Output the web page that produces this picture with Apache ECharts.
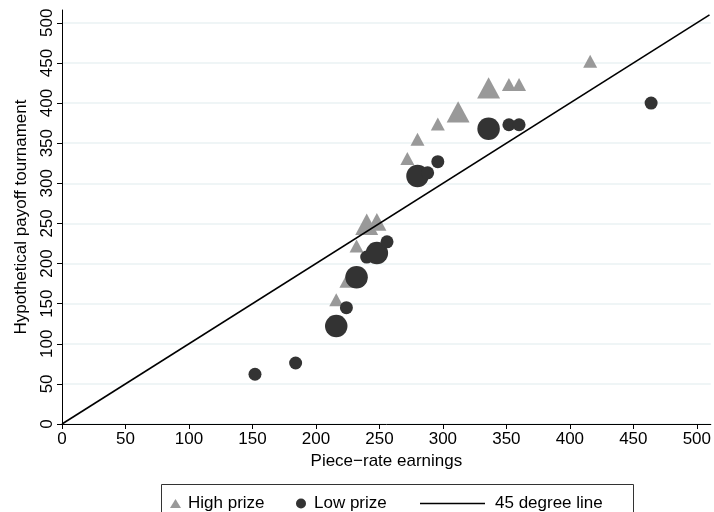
<!DOCTYPE html>
<html>
<head>
<meta charset="utf-8">
<script src="https://cdn.jsdelivr.net/npm/echarts@6/dist/echarts.min.js"></script>
<style>
  html, body { margin: 0; padding: 0; background: #ffffff; }
  #chart { width: 714px; height: 512px; }
</style>
</head>
<body>
<div id="chart"></div>
<script>
// Hypothetical tournament payoff against piece-rate earnings
const highX = [216, 224, 232, 240, 248, 272, 280, 296, 312, 336, 352, 360, 416];
const highY = [155, 178, 222, 249, 252, 331, 355, 374, 389, 419, 423, 423, 452];
const highN = [1, 1, 1, 3, 2, 1, 1, 1, 3, 3, 1, 1, 1];

const lowX = [152, 184, 216, 224, 232, 240, 248, 256, 280, 288, 296, 336, 352, 360, 464];
const lowY = [62, 76, 122, 145, 183, 208, 213, 227, 309, 313, 327, 368, 373, 373, 400];
const lowN = [1, 1, 3, 1, 3, 1, 3, 1, 3, 1, 1, 3, 1, 1, 1];

const lineX = [0, 510];
const lineY = [0, 510];

const xTicks = [0, 50, 100, 150, 200, 250, 300, 350, 400, 450, 500];
const yTicks = [0, 50, 100, 150, 200, 250, 300, 350, 400, 450, 500];

const FONT = '"Liberation Sans", Arial, Helvetica, sans-serif';

const highData = highX.map((x, i) => [x, highY[i], highN[i]]);
const lowData = lowX.map((x, i) => [x, lowY[i], lowN[i]]);
const lineData = lineX.map((x, i) => [x, lineY[i]]);

// marker area grows with the number of observations at a point
const scaleOf = n => Math.pow(n, 0.45);

const chart = echarts.init(document.getElementById('chart'), null, { renderer: 'canvas' });

chart.setOption({
  animation: false,
  backgroundColor: '#ffffff',
  textStyle: { fontFamily: FONT },
  grid: { left: 62, right: 0, top: 10, bottom: 88, containLabel: false },
  xAxis: {
    type: 'value',
    min: 0,
    max: 511,
    name: 'Piece\u2212rate earnings',
    nameLocation: 'middle',
    nameGap: 28,
    nameTextStyle: { fontSize: 17, color: '#000', fontFamily: FONT },
    axisLine: { show: true, onZero: false, lineStyle: { color: '#000', width: 1 } },
    axisTick: { show: true, length: 5, customValues: xTicks, lineStyle: { color: '#000' } },
    axisLabel: { customValues: xTicks, fontSize: 17, color: '#000', margin: 7, fontFamily: FONT },
    splitLine: { show: false }
  },
  yAxis: {
    type: 'value',
    min: 0,
    max: 516,
    interval: 50,
    name: 'Hypothetical payoff tournament',
    nameLocation: 'middle',
    nameRotate: 90,
    nameGap: 32,
    nameTextStyle: { fontSize: 17, color: '#000', fontFamily: FONT },
    axisLine: { show: true, onZero: false, lineStyle: { color: '#000', width: 1 } },
    axisTick: { show: true, length: 5, customValues: yTicks, lineStyle: { color: '#000' } },
    axisLabel: { customValues: yTicks, rotate: 90, fontSize: 17, color: '#000', margin: 6, fontFamily: FONT },
    splitLine: { show: true, lineStyle: { color: '#eaf2f3', width: 1.5 } }
  },
  legend: [
    {
      data: ['High prize'], left: 165, top: 490, itemWidth: 11, itemHeight: 9,
      textStyle: { fontSize: 17, color: '#000', fontFamily: FONT, padding: [0, 0, 0, 2] }
    },
    {
      data: ['Low prize'], left: 291, top: 490, itemWidth: 10, itemHeight: 10,
      textStyle: { fontSize: 17, color: '#000', fontFamily: FONT, padding: [0, 0, 0, 3] }
    },
    {
      data: [{ name: '45 degree line', icon: 'rect' }], left: 415, top: 490, itemWidth: 65, itemHeight: 1.5,
      textStyle: { fontSize: 17, color: '#000', fontFamily: FONT, padding: [0, 0, 0, 5] }
    }
  ],
  graphic: [
    {
      type: 'rect',
      left: 159, top: 482,
      shape: { width: 472, height: 40 },
      style: { fill: 'none', stroke: '#333', lineWidth: 1 },
      silent: true
    }
  ],
  series: [
    {
      name: 'High prize',
      type: 'scatter',
      symbol: 'triangle',
      data: highData,
      symbolSize: v => [14 * scaleOf(v[2]), 13 * scaleOf(v[2])],
      itemStyle: { color: '#999999', opacity: 1 },
      z: 2
    },
    {
      name: 'Low prize',
      type: 'scatter',
      symbol: 'circle',
      data: lowData,
      symbolSize: v => 13 * Math.sqrt(v[2]),
      itemStyle: { color: '#333333', opacity: 1 },
      z: 3
    },
    {
      name: '45 degree line',
      type: 'line',
      data: lineData,
      symbol: 'none',
      showSymbol: false,
      lineStyle: { color: '#000', width: 1.6 },
      itemStyle: { color: '#000' },
      z: 4
    }
  ]
});
</script>
</body>
</html>
